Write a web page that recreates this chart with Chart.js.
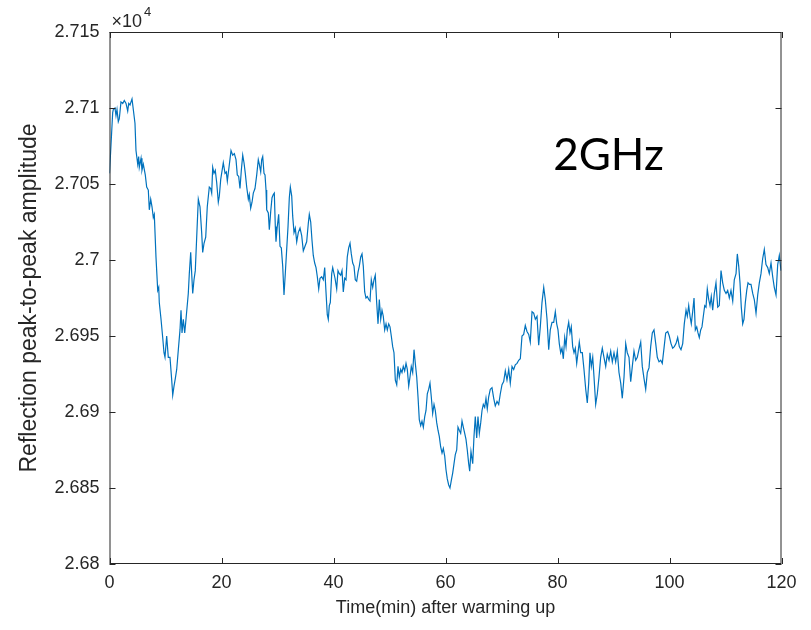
<!DOCTYPE html>
<html>
<head>
<meta charset="utf-8">
<script src="https://cdn.jsdelivr.net/npm/chart.js@4.4.1/dist/chart.umd.min.js"></script>
<style>
  html, body { margin: 0; padding: 0; background: #fff; }
  #box { width: 811px; height: 630px; }
</style>
</head>
<body>
<div id="box"><canvas id="amp"></canvas></div>
<script>
// données (temps en min, amplitude brute)
const timeMin = [
  0, 0.57, 0.68, 0.98, 1.16, 1.34, 1.57, 1.75, 2.05, 2.36, 2.64, 2.95, 3.25, 3.43, 3.66, 4.02, 4.25, 4.55, 4.73, 5.04,
  5.21, 5.32, 5.63, 5.80, 6.04, 6.39, 6.64, 6.93, 7.11, 7.36, 7.59, 7.82, 8.00, 8.30, 8.61, 8.79, 8.89, 9.20, 9.50, 9.73,
  9.91, 10.21, 10.50, 10.80, 11.11, 11.29, 11.52, 11.75, 12.00, 12.29, 12.59, 12.77, 12.95, 13.18, 13.43, 13.66, 14.07, 14.25, 14.50, 14.68,
  14.86, 15.09, 15.32, 15.57, 15.86, 16.16, 16.46, 16.64, 16.88, 17.18, 17.46, 17.82, 18.07, 18.25, 18.43, 18.66, 18.89, 19.14, 19.43, 19.61,
  19.86, 20.32, 20.63, 20.86, 21.04, 21.34, 21.70, 22.00, 22.29, 22.59, 22.82, 23.07, 23.30, 23.54, 23.79, 24.02, 24.25, 24.50, 24.79, 24.96,
  25.21, 25.45, 25.68, 25.98, 26.29, 26.57, 26.75, 27.00, 27.18, 27.36, 27.59, 27.77, 27.95, 28.07, 28.36, 28.54, 28.79, 29.02, 29.25, 29.43,
  29.61, 29.73, 29.96, 30.21, 30.45, 30.68, 30.93, 31.16, 31.39, 31.64, 31.88, 32.11, 32.29, 32.54, 32.71, 32.95, 33.18, 33.43, 33.71, 34.02,
  34.32, 34.61, 34.91, 35.21, 35.50, 35.68, 35.93, 36.16, 36.39, 36.64, 36.88, 37.11, 37.36, 37.59, 37.89, 38.18, 38.43, 38.66, 38.89, 39.07,
  39.25, 39.43, 39.68, 39.86, 40.27, 40.57, 40.80, 41.04, 41.29, 41.52, 41.75, 42.00, 42.23, 42.46, 42.71, 42.95, 43.18, 43.43, 43.66, 43.89,
  44.14, 44.38, 44.61, 44.86, 45.09, 45.32, 45.57, 45.80, 46.04, 46.29, 46.52, 46.75, 47.00, 47.23, 47.46, 47.71, 47.95, 48.18, 48.43, 48.66,
  48.89, 49.14, 49.38, 49.61, 49.86, 50.09, 50.32, 50.57, 50.80, 51.04, 51.29, 51.52, 51.75, 52.00, 52.23, 52.46, 52.71, 52.95, 53.18, 53.43,
  53.66, 53.89, 54.14, 54.38, 54.61, 54.86, 55.09, 55.32, 55.57, 55.80, 56.04, 56.29, 56.52, 56.75, 57.00, 57.23, 57.46, 57.71, 57.95, 58.18,
  58.43, 58.66, 58.89, 59.14, 59.38, 59.61, 59.86, 60.09, 60.32, 60.57, 60.80, 61.04, 61.29, 61.52, 61.75, 62.00, 62.23, 62.46, 62.71, 62.95,
  63.18, 63.43, 63.66, 63.89, 64.14, 64.32, 64.55, 64.86, 65.09, 65.32, 65.57, 65.80, 66.04, 66.29, 66.52, 66.75, 67.00, 67.23, 67.46, 67.71,
  68.00, 68.30, 68.61, 68.89, 69.20, 69.50, 69.79, 70.09, 70.39, 70.68, 70.98, 71.29, 71.57, 71.88, 72.18, 72.46, 72.77, 73.07, 73.36, 73.66,
  73.96, 74.25, 74.55, 74.86, 75.14, 75.45, 75.75, 76.04, 76.34, 76.64, 76.93, 77.23, 77.54, 77.82, 78.13, 78.43, 78.71, 79.02, 79.32, 79.61,
  79.86, 80.09, 80.32, 80.57, 80.80, 81.04, 81.29, 81.52, 81.75, 82.00, 82.23, 82.46, 82.71, 82.95, 83.18, 83.43, 83.66, 83.89, 84.14, 84.43,
  84.73, 85.04, 85.32, 85.57, 85.80, 86.04, 86.29, 86.52, 86.82, 87.11, 87.41, 87.71, 88.00, 88.30, 88.61, 88.89, 89.20, 89.50, 89.79, 90.09,
  90.39, 90.68, 90.98, 91.29, 91.57, 91.88, 92.18, 92.46, 92.77, 93.07, 93.36, 93.66, 93.96, 94.25, 94.55, 94.86, 95.14, 95.45, 95.75, 96.04,
  96.34, 96.64, 96.93, 97.23, 97.54, 97.82, 98.13, 98.43, 98.71, 99.02, 99.32, 99.68, 99.96, 100.27, 100.57, 100.86, 101.16, 101.46, 101.75, 102.05,
  102.36, 102.64, 102.95, 103.18, 103.43, 103.66, 103.89, 104.14, 104.38, 104.61, 104.86, 105.09, 105.32, 105.57, 105.80, 106.04, 106.29, 106.52, 106.75, 107.00,
  107.23, 107.46, 107.71, 108.00, 108.30, 108.61, 108.89, 109.20, 109.50, 109.79, 110.09, 110.39, 110.68, 110.98, 111.29, 111.57, 111.88, 112.11, 112.36, 112.59,
  112.82, 113.07, 113.30, 113.54, 113.79, 114.02, 114.29, 114.55, 114.86, 115.14, 115.45, 115.75, 116.04, 116.34, 116.64, 116.93, 117.23, 117.54, 117.82, 118.13,
  118.43, 118.71, 119.02, 119.32, 119.61, 119.91
];

const amplitude = [
  27057, 27097, 27099, 27100, 27095, 27099, 27091, 27093, 27104, 27103, 27105, 27103, 27098, 27103, 27102, 27106, 27099, 27090, 27072, 27063,
  27068, 27061, 27067, 27059, 27063, 27056, 27048, 27046, 27033, 27040, 27035, 27028, 27030, 27002, 26980, 26982, 26972, 26961, 26949, 26939,
  26936, 26950, 26936, 26936, 26921, 26911, 26917, 26922, 26928, 26941, 26954, 26967, 26952, 26961, 26952, 26961, 26978, 26991, 27005, 26991,
  26978, 26987, 26993, 27015, 27040, 27035, 27018, 27005, 27011, 27015, 27035, 27048, 27047, 27044, 27061, 27057, 27059, 27051, 27038, 27042,
  27053, 27064, 27057, 27058, 27052, 27061, 27072, 27069, 27070, 27066, 27056, 27055, 27047, 27059, 27069, 27064, 27057, 27048, 27040, 27043,
  27034, 27038, 27044, 27047, 27056, 27066, 27063, 27058, 27066, 27068, 27057, 27056, 27046, 27033, 27031, 27020, 27032, 27041, 27043, 27044,
  27022, 27012, 27022, 27030, 27009, 27008, 26996, 26977, 26991, 27007, 27022, 27041, 27048, 27042, 27029, 27018, 27021, 27012, 27018, 27021,
  27016, 27006, 27009, 27012, 27024, 27030, 27025, 27013, 27003, 26998, 26995, 26989, 26981, 26988, 26989, 26987, 26995, 26979, 26964, 26961,
  26970, 26972, 26991, 26995, 26988, 26981, 26993, 26991, 26990, 26993, 26979, 26988, 26987, 27002, 27008, 27011, 27004, 26998, 26996, 26987,
  26986, 26992, 26996, 27002, 27004, 26996, 26979, 26975, 26976, 26974, 26973, 26987, 26982, 26987, 26990, 26972, 26958, 26974, 26961, 26967,
  26963, 26954, 26958, 26954, 26958, 26956, 26950, 26943, 26939, 26921, 26918, 26930, 26923, 26928, 26926, 26930, 26927, 26932, 26928, 26917,
  26923, 26930, 26926, 26941, 26932, 26923, 26910, 26895, 26891, 26894, 26890, 26897, 26901, 26912, 26915, 26919, 26910, 26899, 26905, 26901,
  26893, 26888, 26884, 26877, 26873, 26876, 26871, 26862, 26856, 26852, 26850, 26855, 26860, 26866, 26872, 26875, 26890, 26888, 26886, 26894,
  26890, 26886, 26882, 26875, 26866, 26861, 26874, 26866, 26884, 26897, 26883, 26897, 26886, 26893, 26901, 26905, 26903, 26909, 26902, 26910,
  26915, 26916, 26909, 26904, 26907, 26905, 26912, 26918, 26920, 26927, 26921, 26928, 26919, 26930, 26928, 26931, 26932, 26934, 26935, 26950,
  26951, 26957, 26953, 26951, 26946, 26966, 26965, 26961, 26963, 26944, 26956, 26972, 26982, 26974, 26961, 26941, 26954, 26959, 26959, 26966,
  26958, 26954, 26945, 26939, 26942, 26935, 26949, 26943, 26954, 26959, 26952, 26956, 26943, 26939, 26942, 26932, 26939, 26946, 26939, 26939,
  26928, 26915, 26906, 26919, 26939, 26930, 26936, 26923, 26905, 26912, 26923, 26936, 26942, 26936, 26930, 26938, 26934, 26940, 26933, 26939,
  26933, 26940, 26926, 26919, 26909, 26923, 26945, 26939, 26936, 26920, 26930, 26940, 26934, 26936, 26941, 26946, 26930, 26922, 26915, 26926,
  26929, 26943, 26952, 26954, 26945, 26936, 26933, 26934, 26932, 26942, 26952, 26953, 26950, 26945, 26942, 26943, 26945, 26949, 26943, 26941,
  26945, 26958, 26967, 26963, 26970, 26963, 26958, 26966, 26975, 26954, 26956, 26952, 26949, 26954, 26956, 26963, 26970, 26969, 26981, 26974,
  26970, 26976, 26967, 26978, 26985, 26969, 26970, 26993, 26985, 26980, 26978, 26980, 26975, 26980, 26973, 26987, 26991, 27004, 26996, 26985,
  26969, 26958, 26961, 26972, 26980, 26985, 26984, 26984, 26978, 26974, 26965, 26977, 26985, 26991, 27001, 27007, 26997, 26995, 26991, 26998,
  26989, 26982, 26977, 26997, 27003, 26993
];

const xTicks = [0, 20, 40, 60, 80, 100, 120];
const yTicks = [26800, 26850, 26900, 26950, 27000, 27050, 27100, 27150];

const AXIS_COLOR = '#262626';
const LINE_COLOR = '#0072BD';
const FONT = '"Liberation Sans", Arial, sans-serif';

// cadre + graduations vers l'intérieur (style MATLAB) et textes libres
const boxPlugin = {
  id: 'boxPlugin',
  afterDraw(chart) {
    const { ctx, chartArea: a, scales } = chart;
    const tl = 6;
    ctx.save();
    ctx.strokeStyle = AXIS_COLOR;
    ctx.lineWidth = 1;
    ctx.strokeRect(a.left + 0.5, a.top + 0.5, a.right - a.left - 1, a.bottom - a.top - 1);

    ctx.beginPath();
    xTicks.forEach(v => {
      const px = Math.round(scales.x.getPixelForValue(v)) + 0.5;
      ctx.moveTo(px, a.bottom); ctx.lineTo(px, a.bottom - tl);
      ctx.moveTo(px, a.top); ctx.lineTo(px, a.top + tl);
    });
    yTicks.forEach(v => {
      const py = Math.round(scales.y.getPixelForValue(v)) + 0.5;
      ctx.moveTo(a.left, py); ctx.lineTo(a.left + tl, py);
      ctx.moveTo(a.right, py); ctx.lineTo(a.right - tl, py);
    });
    ctx.stroke();

    // facteur d'échelle ×10^4
    ctx.fillStyle = AXIS_COLOR;
    ctx.textBaseline = 'alphabetic';
    ctx.textAlign = 'left';
    ctx.font = '18px ' + FONT;
    ctx.fillText('\u00d710', a.left + 2, a.top - 5);
    const w = ctx.measureText('\u00d710').width;
    ctx.font = '13px ' + FONT;
    ctx.fillText('4', a.left + 4 + w, a.top - 16);

    // annotation
    ctx.fillStyle = '#000';
    ctx.textAlign = 'center';
    ctx.font = '44px Lato, "Open Sans", sans-serif';
    ctx.fillText('2GHz', scales.x.getPixelForValue(89.1), scales.y.getPixelForValue(27059));
    ctx.restore();
  }
};

const points = timeMin.map((t, i) => ({ x: t, y: amplitude[i] }));

new Chart(document.getElementById('amp'), {
  type: 'line',
  data: {
    datasets: [{
      data: points,
      borderColor: LINE_COLOR,
      borderWidth: 1.2,
      pointRadius: 0,
      tension: 0,
      fill: false
    }]
  },
  options: {
    responsive: true,
    maintainAspectRatio: false,
    animation: false,
    layout: { padding: { top: 32, right: 29.5, left: 0, bottom: 0 } },
    plugins: { legend: { display: false }, tooltip: { enabled: false } },
    scales: {
      x: {
        type: 'linear',
        min: 0,
        max: 120,
        afterFit: s => { s.height = 66; },
        afterBuildTicks: s => { s.ticks = xTicks.map(v => ({ value: v })); },
        grid: { display: false, drawTicks: false },
        border: { display: false },
        ticks: {
          color: AXIS_COLOR,
          padding: 8,
          maxRotation: 0,
          font: { family: FONT, size: 18 }
        },
        title: {
          display: true,
          text: 'Time(min) after warming up',
          color: AXIS_COLOR,
          padding: { top: 0, bottom: 11 },
          font: { family: FONT, size: 18 }
        }
      },
      y: {
        min: 26800,
        max: 27150,
        afterFit: s => { s.width = 109.5; },
        afterBuildTicks: s => { s.ticks = yTicks.map(v => ({ value: v })); },
        grid: { display: false, drawTicks: false },
        border: { display: false },
        ticks: {
          color: AXIS_COLOR,
          padding: 10,
          font: { family: FONT, size: 18 },
          callback: v => String(Number((v / 1e4).toFixed(4)))
        },
        title: {
          display: true,
          text: 'Reflection peak-to-peak amplitude',
          color: AXIS_COLOR,
          padding: { top: 16, bottom: 0 },
          font: { family: FONT, size: 23 }
        }
      }
    }
  },
  plugins: [boxPlugin]
});
</script>
</body>
</html>
